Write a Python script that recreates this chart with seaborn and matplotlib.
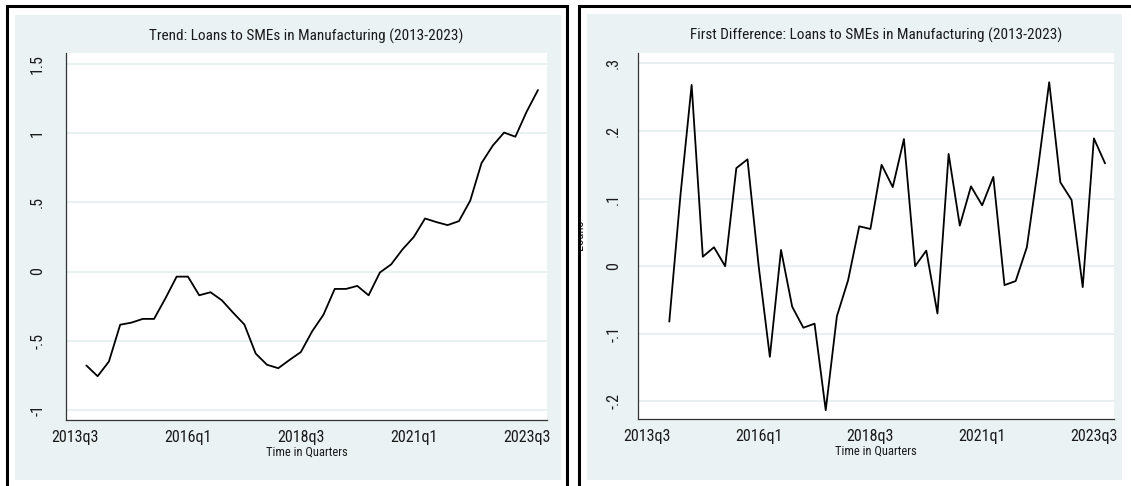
import numpy as np
import pandas as pd
import matplotlib
matplotlib.use("Agg")
import matplotlib.pyplot as plt
from matplotlib.patches import Rectangle
import seaborn as sns

# Quarterly series, 2013q4 - 2023q4
quarters = pd.period_range("2013Q4", "2023Q4", freq="Q")
trend = [-0.68, -0.758, -0.652, -0.385, -0.37, -0.343, -0.343, -0.195, -0.037, -0.037,
         -0.172, -0.15, -0.208, -0.298, -0.384, -0.594, -0.675, -0.70, -0.64, -0.583,
         -0.433, -0.313, -0.126, -0.126, -0.104, -0.172, -0.007, 0.052, 0.16, 0.25,
         0.384, 0.358, 0.336, 0.365, 0.513, 0.785, 0.912, 1.006, 0.976, 1.158, 1.314]
# First difference starts one quarter later (2014q1)
first_diff = [-0.082, 0.105, 0.268, 0.014, 0.028, 0.0, 0.145, 0.158, 0.0, -0.134,
              0.024, -0.06, -0.091, -0.085, -0.213, -0.074, -0.021, 0.059, 0.055, 0.15,
              0.117, 0.188, 0.0, 0.023, -0.07, 0.166, 0.06, 0.118, 0.09, 0.132,
              -0.028, -0.022, 0.028, 0.145, 0.272, 0.124, 0.098, -0.031, 0.189, 0.152]

xtick_labels = ["2013q3", "2016q1", "2018q3", "2021q1", "2023q3"]
left_yticks = [-1, -0.5, 0, 0.5, 1, 1.5]
left_ylabels = ["-1", "-.5", "0", ".5", "1", "1.5"]
right_yticks = [-0.2, -0.1, 0, 0.1, 0.2, 0.3]
right_ylabels = ["-.2", "-.1", "0", ".1", ".2", ".3"]

titles = ["Trend: Loans to SMEs in Manufacturing (2013-2023)",
          "First Difference: Loans to SMEs in Manufacturing (2013-2023)"]
xlabel = "Time in Quarters"
ylabel_right = "Loans"


def qnum(label):
    p = pd.Period(label, freq="Q")
    return p.year + (p.quarter - 1) / 4


tq = np.array([p.year + (p.quarter - 1) / 4 for p in quarters])
df_trend = pd.DataFrame({"t": tq, "loans": trend})
df_diff = pd.DataFrame({"t": tq[1:], "loans": first_diff})

sns.set_style("white")
plt.rcParams["font.family"] = ["Roboto Condensed", "Liberation Sans", "DejaVu Sans"]

W, H = 1131, 486
fig = plt.figure(figsize=(W / 100, H / 100), dpi=100)
fig.patch.set_facecolor("white")

BG = "#eaf2f3"
GRID = "#e6eff1"
INK = "#1a1a1a"


def rect(x0, y0, x1, y1):
    return [x0 / W, 1 - y1 / H, (x1 - x0) / W, (y1 - y0) / H]


def panel_frame(x0, y0, x1, y1, bx0, by0, bx1, by1):
    fig.add_artist(Rectangle((bx0 / W, 1 - by1 / H), (bx1 - bx0) / W, (by1 - by0) / H,
                             transform=fig.transFigure, facecolor=BG, edgecolor="none",
                             zorder=-2))
    fig.add_artist(Rectangle((x0 / W, 1 - y1 / H), (x1 - x0) / W, (y1 - y0) / H,
                             transform=fig.transFigure, facecolor="none", edgecolor="black",
                             lw=2.2, zorder=6, clip_on=False))


panel_frame(7, 6, 567.5, 520, 15, 15, 561, 480)
panel_frame(578.5, 6, 1160, 520, 587, 14, 1122, 480)

xlim = (2013.30, 2023.95)
xticks = [qnum(s) for s in xtick_labels]


def style_axes(ax, yticks, ylabels, ylim, title, ypad):
    ax.set_facecolor("white")
    ax.set_xlim(*xlim)
    ax.set_ylim(*ylim)
    ax.set_xticks(xticks)
    ax.set_xticklabels(xtick_labels)
    ax.set_yticks(yticks)
    ax.set_yticklabels(ylabels, rotation=90, va="center")
    ax.grid(axis="y", color=GRID, lw=1.3)
    ax.grid(axis="x", visible=False)
    ax.set_axisbelow(True)
    for s in ["top", "right"]:
        ax.spines[s].set_visible(False)
    for s in ["left", "bottom"]:
        ax.spines[s].set_color("#333333")
        ax.spines[s].set_linewidth(0.9)
    ax.tick_params(axis="both", direction="out", length=4, width=0.8, color="#333333",
                   labelsize=11.5, labelcolor=INK)
    ax.tick_params(axis="x", pad=3.5)
    ax.tick_params(axis="y", pad=ypad)
    ax.set_title(title, fontsize=11, color=INK, pad=9.5)
    ax.set_xlabel(xlabel, fontsize=9, color=INK, labelpad=0)
    ax.set_ylabel("")


ax1 = fig.add_axes(rect(66, 53.3, 547, 420))
sns.lineplot(data=df_trend, x="t", y="loans", ax=ax1, color="black", lw=1.3)
style_axes(ax1, left_yticks, left_ylabels, (-1.075, 1.58), titles[0], 11)

ax2 = fig.add_axes(rect(638, 52.7, 1114, 419))
sns.lineplot(data=df_diff, x="t", y="loans", ax=ax2, color="black", lw=1.3)
style_axes(ax2, right_yticks, right_ylabels, (-0.226, 0.3157), titles[1], 8)

# y-axis title of the right panel, partly hidden by the panel frame
clip = Rectangle((580 / W, 0), (W - 580) / W, 1, transform=fig.transFigure)
t = fig.text(586 / W, 1 - 235 / H, ylabel_right, rotation=90, fontsize=9,
             ha="right", va="center", color=INK, zorder=3)
t.set_clip_path(clip)

fig.savefig("out.png", dpi=100, facecolor="white")
